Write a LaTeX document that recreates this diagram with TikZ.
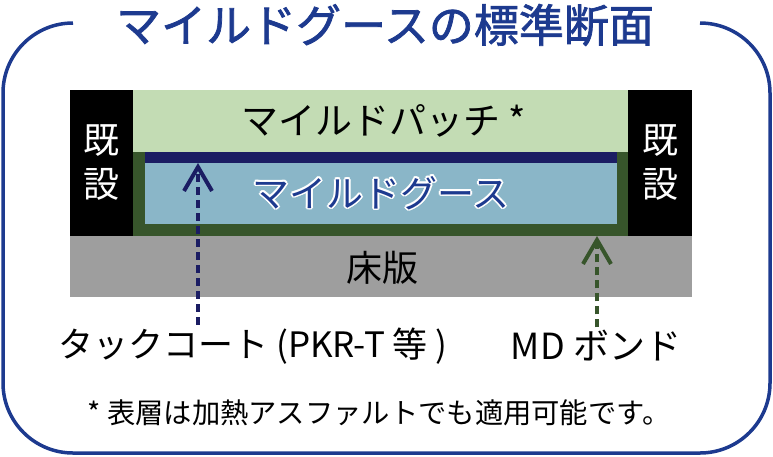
\documentclass[tikz,border=0pt]{standalone}
\usepackage{fontspec}
\setmainfont{Noto Sans CJK JP}
\newfontfamily\titlefont[FakeBold=1.6]{Noto Sans CJK JP}
\usetikzlibrary{arrows.meta}
\definecolor{framenavy}{HTML}{1D3A8F}
\definecolor{tacknavy}{HTML}{1B1D63}
\definecolor{bondgreen}{HTML}{37552B}
\definecolor{patchgreen}{HTML}{C3DCB4}
\definecolor{gooseblue}{HTML}{8AB6C8}
\definecolor{slabgray}{HTML}{9E9E9E}
\tikzset{
  layertext/.style={font=\fontsize{37}{42}\selectfont, inner sep=0pt},
  existtext/.style={text=white, align=center, font=\fontsize{36}{44}\selectfont, inner sep=0pt},
  labeltext/.style={font=\fontsize{35}{40}\selectfont, inner sep=3pt},
  leader/.style={line width=3.5pt, dash pattern=on 8pt off 5pt,
    -{Straight Barb[length=24pt,width=28pt,line width=4pt]}},
}

\begin{document}
\begin{tikzpicture}[x=1pt,y=-1pt]
			\useasboundingbox (0,0) rectangle (773,456);
			%%%%% START %%%%%
			
			\draw[framenavy, line width=3.5pt, rounded corners=70pt] (73,23) -- (3,23) -- (3,453) -- (770,453) -- (770,23) -- (700,23);
			\node[text=framenavy, font=\fontsize{45}{50}\selectfont\titlefont] (title) at (385,25) {マイルドグースの標準断面};
			
			\fill[black] (70,90) rectangle (133,236);
			\fill[black] (628,90) rectangle (692,236);
			\fill[patchgreen] (133,90) rectangle (628,152);
			\fill[bondgreen] (133,152) rectangle (628,236);
			\fill[tacknavy] (145,152) rectangle (617,163);
			\fill[gooseblue] (145,163) rectangle (617,224);
			\fill[slabgray] (70,236) rectangle (692,297);
			
			\node[existtext] (existL) at (101,163) {既\\設};
			\node[existtext] (existR) at (660,163) {既\\設};
			\node[layertext] (patch) at (384,121) {マイルドパッチ *};
			
			\coordinate (goose) at (381,193);
			\foreach \a in {0,30,...,330}
				\node[layertext, text=white] at ([shift={(\a:1.6pt)}]goose) {マイルドグース};
			\node[layertext, text=framenavy] (gooselabel) at (goose) {マイルドグース};
			
			\node[layertext, font=\fontsize{36}{40}\selectfont] (slab) at (382,268) {床版};
			
			\node[labeltext] (tack) at (253,346) {タックコート (PKR-T 等 )};
			\node[labeltext, font=\fontsize{36}{40}\selectfont] (bond) at (596,346) {MD ボンド};
			
			\coordinate (tacktip) at (198,163);
			\coordinate (bondtip) at (597,236);
			\draw[leader, tacknavy] (tack.north -| tacktip) -- (tacktip);
			\draw[leader, bondgreen] (bond.north -| bondtip) -- (bondtip);
			
			\node[font=\fontsize{28.3}{34}\selectfont] (note) at (379,413) {* 表層は加熱アスファルトでも適用可能です。};
			
			%%%%% END %%%%%
\end{tikzpicture}
\end{document}
